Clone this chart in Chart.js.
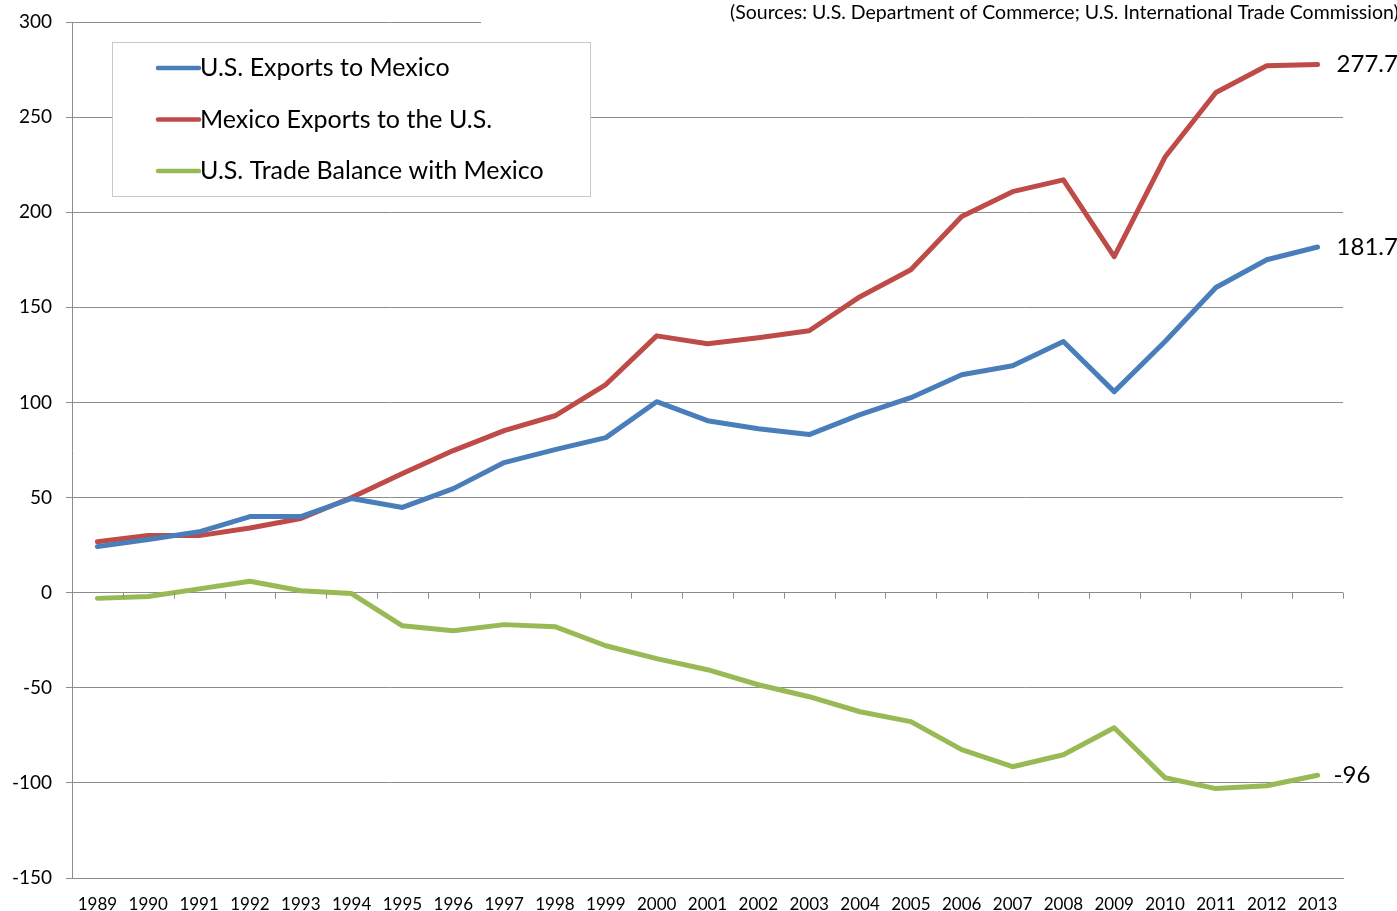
<!DOCTYPE html>
<html>
<head>
<meta charset="utf-8">
<script src="https://cdn.jsdelivr.net/npm/chart.js@4"></script>
<style>
	html, body { margin: 0; padding: 0; background: #fff; overflow: hidden; }
	#wrap { width: 1397px; height: 911px; }
</style>
</head>
<body>
<div id="wrap"><canvas id="chart"></canvas></div>
<script>
const years = ['1989', '1990', '1991', '1992', '1993', '1994', '1995', '1996', '1997', '1998', '1999', '2000', '2001',
	'2002', '2003', '2004', '2005', '2006', '2007', '2008', '2009', '2010', '2011', '2012', '2013'];

const usExports = [24.2, 28, 32, 40, 40, 49.5, 44.8, 54.7, 68.4, 75.2, 81.5, 100.4, 90.4,
	86.2, 83.1, 93.6, 102.5, 114.6, 119.3, 132, 105.7, 132, 160.4, 175, 181.7];

const mexicoExports = [26.8, 30, 30, 34, 39, 50, 62.6, 74.7, 85.2, 93, 109.4, 135, 130.9,
	134, 137.7, 155.6, 169.8, 197.7, 210.8, 217, 176.7, 229, 262.9, 277, 277.7];

const tradeBalance = [-3, -2, 2, 6, 1, -0.5, -17.4, -20, -16.8, -17.9, -27.9, -34.7, -40.5,
	-48.4, -54.7, -62.6, -67.8, -82.5, -91.5, -85.2, -71, -97.3, -103, -101.5, -96];

const endLabels = ['181.7', '277.7', '-96'];
const sourceNote = '(Sources: U.S. Department of Commerce; U.S. International Trade Commission)';

const fontFamily = 'Lato, "Open Sans", sans-serif';
const gridColor = '#8c8c8c';

const decorPlugin = {
	id: 'decor',
	afterDraw(chart) {
		const ctx = chart.ctx;
		const x = chart.scales.x;
		const y = chart.scales.y;
		const zero = y.getPixelForValue(0);

		ctx.save();

		// small ticks on the zero line between categories
		ctx.strokeStyle = gridColor;
		ctx.lineWidth = 1;
		for (let i = 0; i <= years.length; i++) {
			const px = Math.round(x.getPixelForValue(i - 0.5)) + 0.5;
			ctx.beginPath();
			ctx.moveTo(px, zero);
			ctx.lineTo(px, zero + 6);
			ctx.stroke();
		}

		// source note covering the top grid line
		ctx.fillStyle = '#fff';
		ctx.fillRect(481, 0, chart.width - 481, 28);
		ctx.fillStyle = '#000';
		ctx.font = '19.5px ' + fontFamily;
		ctx.textBaseline = 'middle';
		ctx.textAlign = 'left';
		ctx.fillText(sourceNote, 730, 13);

		// legend box
		const box = { left: 112, top: 42, right: 590, bottom: 196 };
		ctx.fillStyle = '#fff';
		ctx.fillRect(box.left, box.top, box.right - box.left, box.bottom - box.top);
		ctx.strokeStyle = '#c8c8c8';
		ctx.strokeRect(box.left + 0.5, box.top + 0.5, box.right - box.left, box.bottom - box.top);

		ctx.font = '25px ' + fontFamily;
		chart.data.datasets.forEach((ds, i) => {
			const ly = 68 + i * 51.5;
			ctx.strokeStyle = ds.borderColor;
			ctx.lineWidth = 4.5;
			ctx.lineCap = 'round';
			ctx.beginPath();
			ctx.moveTo(158, ly);
			ctx.lineTo(199, ly);
			ctx.stroke();
			ctx.fillStyle = '#000';
			ctx.fillText(ds.label, 200, ly);
		});

		// end value labels
		ctx.font = '24px ' + fontFamily;
		chart.data.datasets.forEach((ds, i) => {
			const meta = chart.getDatasetMeta(i);
			const pt = meta.data[meta.data.length - 1];
			ctx.fillStyle = '#000';
			ctx.fillText(endLabels[i], pt.x + (i === 2 ? 16 : 19), pt.y);
		});

		ctx.restore();
	},
};

new Chart(document.getElementById('chart'), {
	type: 'line',
	data: {
		labels: years,
		datasets: [
			{ label: 'U.S. Exports to Mexico', data: usExports, borderColor: '#4a7ebb' },
			{ label: 'Mexico Exports to the U.S.', data: mexicoExports, borderColor: '#be4b48' },
			{ label: 'U.S. Trade Balance with Mexico', data: tradeBalance, borderColor: '#98b954' },
		].map((ds) => ({ ...ds, borderWidth: 5, pointRadius: 0, tension: 0, borderJoinStyle: 'round', borderCapStyle: 'round' })),
	},
	options: {
		responsive: true,
		maintainAspectRatio: false,
		animation: false,
		layout: { padding: { top: 22, right: 54, left: 0, bottom: 0 } },
		plugins: {
			legend: { display: false },
			tooltip: { enabled: false },
		},
		scales: {
			x: {
				offset: true,
				grid: { display: false },
				border: { color: gridColor },
				ticks: {
					color: '#000',
					font: { family: fontFamily, size: 17 },
					maxRotation: 0,
					autoSkip: false,
					padding: 8,
				},
				afterFit(scale) {
					scale.height = 33;
					scale.paddingLeft = 0;
					scale.paddingRight = 0;
				},
			},
			y: {
				min: -150,
				max: 300,
				grid: { color: gridColor, tickLength: 6 },
				border: { color: gridColor },
				ticks: {
					stepSize: 50,
					color: '#000',
					font: { family: fontFamily, size: 19 },
					padding: 14,
				},
				afterFit(scale) {
					scale.width = 72;
					scale.paddingTop = 0;
					scale.paddingBottom = 0;
				},
			},
		},
	},
	plugins: [decorPlugin],
});
</script>
</body>
</html>
